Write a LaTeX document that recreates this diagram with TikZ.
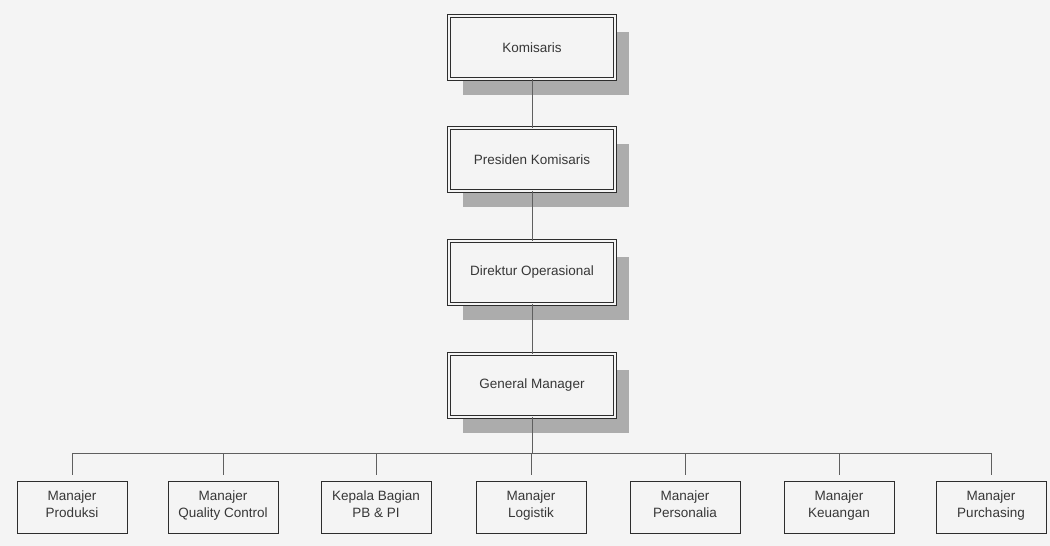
\documentclass[tikz,border=0pt]{standalone}
\usepackage{fontspec}
\setmainfont{Liberation Sans}
\usetikzlibrary{shadows}
\definecolor{bgpaper}{RGB}{244,244,244}
\definecolor{boxline}{RGB}{45,45,45}
\definecolor{shadowgray}{RGB}{172,172,172}
\definecolor{linkgray}{RGB}{95,95,95}
\definecolor{textgray}{RGB}{55,55,55}
\tikzset{
  topbox/.style={draw=boxline,double=bgpaper,double distance=1.6pt,line width=0.9pt,
    fill=bgpaper,minimum width=166pt,minimum height=63pt,text=textgray,
    font=\fontsize{13.5}{16}\selectfont,
    drop shadow={shadow xshift=14pt,shadow yshift=-16pt,fill=shadowgray,opacity=1}},
  unitbox/.style={draw=boxline,line width=1pt,fill=bgpaper,minimum width=110pt,
    minimum height=52pt,text=textgray,align=center,inner xsep=1pt,inner ysep=1pt,
    font=\fontsize{13.5}{17}\selectfont,
    execute at begin node=\strut,execute at end node=\strut},
  link/.style={draw=linkgray,line width=1pt}
}
\begin{document}
\begin{tikzpicture}[x=1pt,y=-1pt]
            \useasboundingbox[fill=bgpaper] (0,0) rectangle (1050,546);
            \coordinate (bar) at (532,453);
            \node[topbox] (kom) at (532,47.5) {Komisaris};
            \node[topbox] (pres) at (532,159.5) {Presiden Komisaris};
            \node[topbox] (dir) at (532,272.5) {Direktur Operasional};
            \node[topbox] (gm) at (532,385.5) {General Manager};
            \node[unitbox] (prod) at (72,507) {Manajer\\Produksi};
            \node[unitbox] (qc) at (223,507) {Manajer\\Quality Control};
            \node[unitbox] (pb) at (376,507) {Kepala Bagian\\PB \& PI};
            \node[unitbox] (log) at (531,507) {Manajer\\Logistik};
            \node[unitbox] (pers) at (685,507) {Manajer\\Personalia};
            \node[unitbox] (keu) at (839,507) {Manajer\\Keuangan};
            \node[unitbox] (pur) at (991,507) {Manajer\\Purchasing};
            \draw[link] (kom) -- (pres);
            \draw[link] (pres) -- (dir);
            \draw[link] (dir) -- (gm);
            \draw[link] (gm.south) -- (bar);
            \foreach \unit in {prod,qc,pb,log,pers,keu,pur}
              \draw[link,shorten >=6pt] (bar) -| (\unit.north);
        \end{tikzpicture}
\end{document}
